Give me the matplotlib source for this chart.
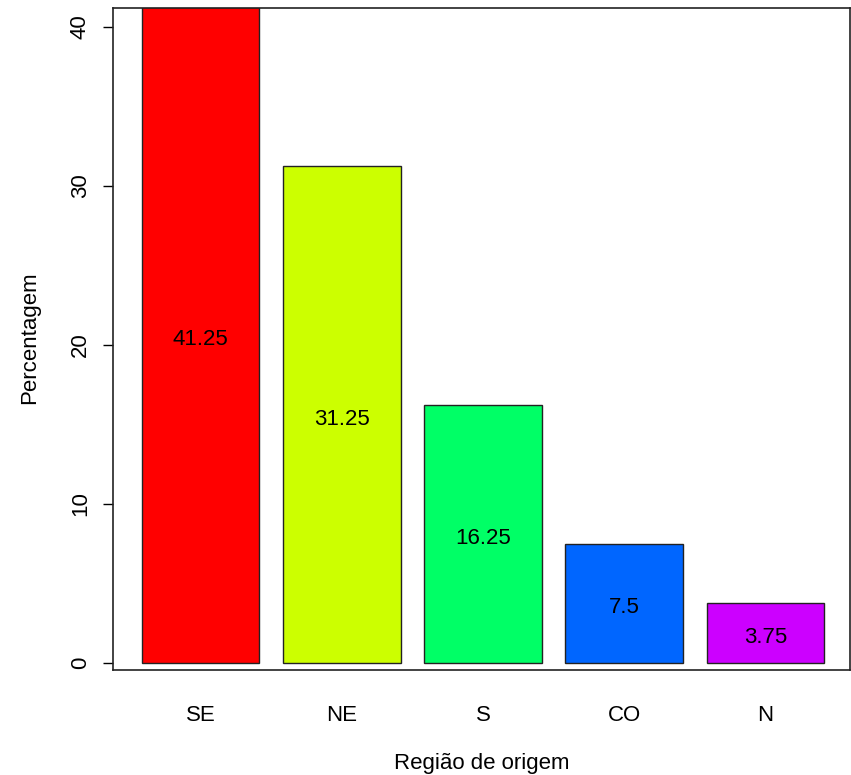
import matplotlib
matplotlib.use("Agg")
import matplotlib.pyplot as plt

plt.rcParams['font.family'] = ['Liberation Sans', 'DejaVu Sans']

# Dados
regioes = ["SE", "NE", "S", "CO", "N"]
percentagem = [41.25, 31.25, 16.25, 7.5, 3.75]
cores = ["#FF0000", "#CCFF00", "#00FF66", "#0066FF", "#CC00FF"]

fig = plt.figure(figsize=(8.51, 7.75), dpi=100)
ax = fig.add_axes([113 / 851, 1 - 670 / 775, (850 - 113) / 851, (670 - 8) / 775])

# posicoes estilo barplot do R (width 1, space 0.2)
centros = [0.7 + 1.2 * i for i in range(len(regioes))]
ax.bar(centros, percentagem, width=1.0, color=cores, edgecolor="#222222", linewidth=1.0)

for x, v in zip(centros, percentagem):
    ax.text(x, v / 2 - 0.12, f"{v:g}", ha="center", va="center_baseline", fontsize=16, color="black")

ax.set_xlim(-0.045, 6.219)
ax.set_ylim(-0.44, 41.2)

ax.set_yticks([0, 10, 20, 30, 40])
ax.set_yticklabels(["0", "10", "20", "30", "40"], rotation=90, va="center", fontsize=16)
ax.tick_params(axis="y", length=7, width=1, pad=9)

ax.set_xticks(centros)
ax.set_xticklabels(regioes, fontsize=16)
ax.tick_params(axis="x", length=0, pad=25)

for s in ax.spines.values():
    s.set_linewidth(1.2)
    s.set_color("#222222")

fig.text(482 / 851, 1 - 764 / 775, "Região de origem", ha="center", va="center", fontsize=16)
fig.text(30 / 851, 1 - 338 / 775, "Percentagem", ha="center", va="center", rotation=90, fontsize=16)

fig.savefig("out.png", dpi=100)
